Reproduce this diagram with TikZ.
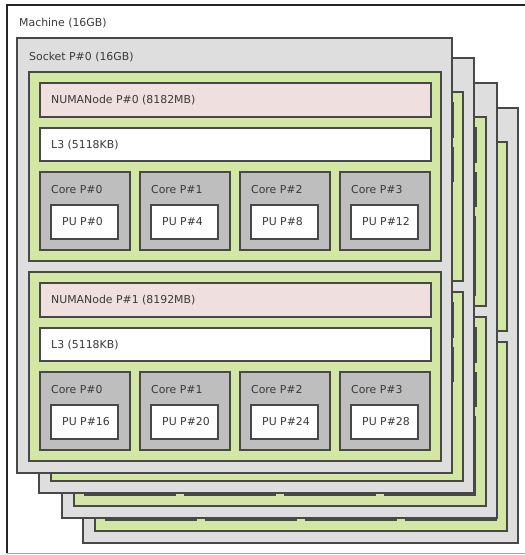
\documentclass[tikz,border=0pt]{standalone}
\usepackage{fontspec}
\setmainfont{DejaVu Sans}
\definecolor{sockc}{HTML}{DEDEDE}
\definecolor{grpc}{HTML}{D2E7A4}
\definecolor{memc}{HTML}{EFDFDE}
\definecolor{corec}{HTML}{BEBEBE}
\definecolor{linec}{HTML}{484848}
\definecolor{txtc}{HTML}{3A3A3A}
\tikzset{
  box/.style={draw=linec, line width=1.2pt},
  lbl/.style={anchor=west, inner sep=0pt, text=txtc, font=\fontsize{10.9}{12}\selectfont}
}
\begin{document}
\begin{tikzpicture}[x=1pt,y=-1pt]
\useasboundingbox (0,0) rectangle (525,555);
\clip (0,0) rectangle (525,555);
\fill[white] (0,0) rectangle (525,555);
% machine frame
\draw[black!85, line width=1.4pt] (7,553) -- (7,5) -- (530,5);
\draw[black!35, line width=1pt] (7,553) -- (530,553);
% sockets, back to front
\foreach \dx/\dy in {66/70, 45/45, 22/20, 0/0} {
  \begin{scope}[shift={(\dx,\dy)}]
    \draw[box, fill=sockc] (17,38) rectangle (452,473);
    \foreach \oy in {0,200} {
      \draw[box, fill=grpc] (29,72+\oy) rectangle (441,261+\oy);
      \draw[box, fill=memc] (40,83+\oy) rectangle (431,117+\oy);
      \draw[box, fill=white] (40,128+\oy) rectangle (431,161+\oy);
      \foreach \c in {0,1,2,3} {
        \draw[box, fill=corec] (40+100*\c,172+\oy) rectangle (130+100*\c,250+\oy);
        \draw[box, fill=white] (51+100*\c,205+\oy) rectangle (118+100*\c,239+\oy);
      }
    }
  \end{scope}
}
% labels of the front socket
\node[lbl] (machine) at (19,23) {Machine (16GB)};
\node[lbl] (socket) at (29,57) {Socket P\#0 (16GB)};
\node[lbl] (numa0) at (51,100) {NUMANode P\#0 (8182MB)};
\node[lbl] (numa1) at (51,300) {NUMANode P\#1 (8192MB)};
\foreach \g in {0,1} {
  \node[lbl] (l3g\g) at (51,145+200*\g) {L3 (5118KB)};
  \foreach \c in {0,1,2,3} {
    \pgfmathtruncatemacro\pu{16*\g+4*\c}
    \node[lbl] (coreg\g c\c) at (51+100*\c,190+200*\g) {Core P\#\c};
    \node[lbl] (pug\g c\c) at (62+100*\c,222+200*\g) {PU P\#\pu};
  }
}
\end{tikzpicture}
\end{document}
